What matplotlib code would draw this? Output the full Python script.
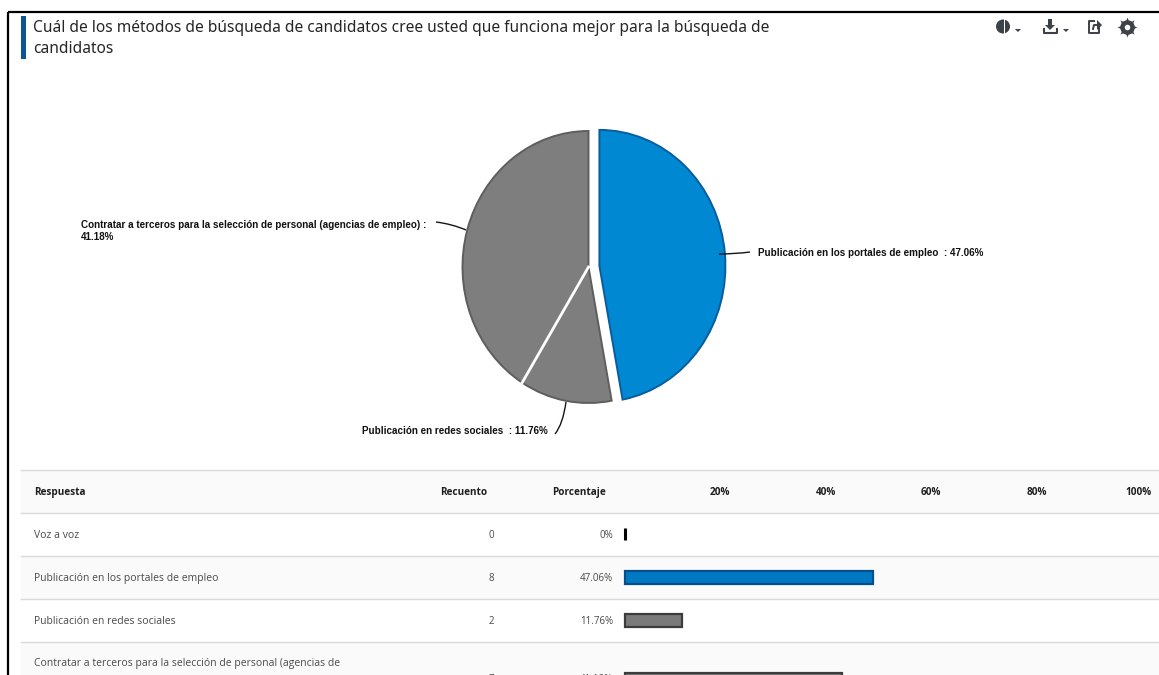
import numpy as np
import matplotlib
matplotlib.use("Agg")
import matplotlib.pyplot as plt
from matplotlib.patches import Rectangle, Circle, Polygon
from matplotlib.path import Path
from matplotlib.patches import PathPatch

W, H = 1159, 675
title_lines = ["Cuál de los métodos de búsqueda de candidatos cree usted que funciona mejor para la búsqueda de", "candidatos"]
categories = ["Voz a voz", "Publicación en los portales de empleo", "Publicación en redes sociales",
              "Contratar a terceros para la selección de personal (agencias de"]
counts = [0, 8, 2, 7]
bar_values = [0, 47.06, 10.9, 41.18]
pct_labels = ["0%", "47.06%", "11.76%", "41.18%"]
header = ["Respuesta", "Recuento", "Porcentaje"]
ticks = [20, 40, 60, 80, 100]
pie_labels = {
    1: "Publicación en los portales de empleo  : 47.06%",
    2: "Publicación en redes sociales  : 11.76%",
    3: "Contratar a terceros para la selección de personal (agencias de empleo) :\n41.18%",
}

BLUE, BLUE_E = "#0088d2", "#0b5c9e"
GREY, GREY_E = "#7e7e7e", "#5e5e5e"
bar_blue, bar_blue_e = "#0079c2", "#034f8c"
bar_grey, bar_grey_e = "#7a7a7a", "#3c3c3c"
TXT = "#4a4a4a"
HEAD = "#1e1e1e"
FONT = "Open Sans"

fig = plt.figure(figsize=(W / 100, H / 100), dpi=100, facecolor="white")

def axes_px(x0, y0, x1, y1, **kw):
    return fig.add_axes([x0 / W, 1 - y1 / H, (x1 - x0) / W, (y1 - y0) / H], **kw)

# page layer in pixel coordinates
pg = axes_px(0, 0, W, H)
pg.set_xlim(0, W); pg.set_ylim(H, 0); pg.axis("off")

# frame
pg.plot([8, 8], [H, 12], color="black", lw=1.6, solid_capstyle="butt")
pg.plot([8, W], [12, 12], color="black", lw=1.6, solid_capstyle="butt")

# title
pg.add_patch(Rectangle((21, 16), 5, 43, color="#0b5592", lw=0))
pg.text(33, 32, title_lines[0], fontsize=11.18, family="Noto Sans", color="#262626", va="baseline")
pg.text(33, 53, title_lines[1], fontsize=11.18, family="Noto Sans", color="#262626", va="baseline")

# toolbar icons
ic = "#3d4148"
pg.add_patch(Circle((1003, 26.5), 7, color=ic, lw=0))
pg.add_patch(Rectangle((1003.5, 18), 1.2, 17, color="white", lw=0))
pg.add_patch(Polygon([(1015, 29), (1021, 29), (1018, 32)], color=ic, lw=0))
pg.add_patch(Polygon([(1048, 19), (1052, 19), (1052, 25), (1055, 25), (1050, 30), (1045, 25), (1048, 25)], color=ic, lw=0))
pg.plot([1043.5, 1043.5, 1056.5, 1056.5], [29, 33, 33, 29], color=ic, lw=1.5)
pg.add_patch(Polygon([(1063, 29), (1069, 29), (1066, 32)], color=ic, lw=0))
pg.plot([1094, 1089, 1089, 1099, 1099], [21, 21, 33, 33, 28], color=ic, lw=1.4)
pg.plot([1093, 1094, 1099], [29, 25, 25], color=ic, lw=1.4)
pg.add_patch(Polygon([(1097, 20), (1102, 25), (1097, 30)], color=ic, lw=0))
pg.scatter([1127], [26.5], marker=(8, 1, 0), s=210, color=ic, lw=0)
pg.scatter([1127], [26.5], marker="o", s=110, color=ic, lw=0)
pg.scatter([1127], [26.5], marker="o", s=16, color="white", lw=0)

# table background and rules
row_lines = [470, 513, 556, 599, 642]
for i, top in enumerate(row_lines):
    bottom = row_lines[i + 1] if i + 1 < len(row_lines) else H
    if i % 2 == 0:
        pg.add_patch(Rectangle((21, top), W - 21, bottom - top, color="#fafafa", lw=0, zorder=0))
    pg.plot([21, W], [top, top], color="#d9d9d9", lw=1.0, zorder=1)

text_y = [538, 581, 624, 666]
num_y = [538, 581, 624, 682]
bar_y = [534, 577.5, 620.5, 679]

pg.text(34, 495, header[0], fontsize=7.2, family=FONT, weight="bold", color=HEAD, va="baseline")
pg.text(487, 495, header[1], fontsize=7.2, family=FONT, weight="bold", color=HEAD, va="baseline", ha="right")
pg.text(606, 495, header[2], fontsize=7.2, family=FONT, weight="bold", color=HEAD, va="baseline", ha="right")
for c, n, p, ty, ny in zip(categories, counts, pct_labels, text_y, num_y):
    pg.text(34, ty, c, fontsize=7.45, family=FONT, color=TXT, va="baseline")
    pg.text(494, ny, str(n), fontsize=7.0, family=FONT, color=TXT, va="baseline", ha="right")
    pg.text(613, ny, p, fontsize=7.0, family=FONT, color=TXT, va="baseline", ha="right")

# horizontal bars
bx = axes_px(625, 513, 625 + 527, H)
bx.patch.set_alpha(0)
bx.set_xlim(0, 100); bx.set_ylim(H, 513)
for s in bx.spines.values():
    s.set_visible(False)
bx.set_yticks([])
for i, (v, y) in enumerate(zip(bar_values, bar_y)):
    col, edge = (bar_blue, bar_blue_e) if i == 1 else (bar_grey, bar_grey_e)
    if v == 0:
        col, edge = "black", "black"
    bx.barh(y, v, height=12.5, color=col, edgecolor=edge, linewidth=1.6 if v else 2.2, clip_on=False)
bx.xaxis.tick_top()
bx.set_xticks(ticks)
bx.set_xticklabels([f"{t}%" for t in ticks], ha="right", fontsize=7.2, family=FONT, weight="bold", color=HEAD)
bx.tick_params(axis="x", length=0, pad=11)

# pie
rx, ry = 126, 136
cx, cy = 588.5, 267
pa = axes_px(cx - rx, cy - ry, cx + rx, cy + ry)
idx = [i for i, n in enumerate(counts) if n > 0]
wedges, _ = pa.pie([counts[i] for i in idx], colors=[BLUE, GREY, GREY], startangle=90, counterclock=False,
                   radius=1, explode=[0.087, 0, 0], wedgeprops=dict(linewidth=1.4, joinstyle="miter"))
for w, e in zip(wedges, [BLUE_E, GREY_E, GREY_E]):
    w.set_edgecolor(e)
    w.set_clip_on(False)
pa.set_aspect("auto")
pa.set_xlim(-1, 1); pa.set_ylim(-1, 1)
pa.patch.set_alpha(0)
# white seam between the two grey slices, along their shared wedge angle
seam = np.deg2rad(wedges[2].theta2)
pa.plot([0, np.cos(seam)], [0, np.sin(seam)], color="white", lw=2.0, clip_on=False, solid_capstyle="projecting")

# pie labels and leader lines
lab = dict(fontsize=7.1, family="Liberation Sans", weight="bold", color="#101010")
pg2 = axes_px(0, 0, W, H)
pg2.set_xlim(0, W); pg2.set_ylim(H, 0); pg2.axis("off"); pg2.patch.set_alpha(0)
pg2.text(758, 253, pie_labels[1], va="center", **lab)
pg2.text(362, 431.5, pie_labels[2], va="center", **lab)
pg2.text(81, 231, pie_labels[3], va="center", linespacing=1.25, **lab)
for verts in ([(719, 254), (735, 254), (750, 252)],
              [(566, 402), (563, 424), (555, 434)],
              [(436, 222), (452, 224), (466, 230)]):
    pg2.add_patch(PathPatch(Path(verts, [Path.MOVETO, Path.CURVE3, Path.CURVE3]), fc="none", ec="#151515", lw=1.0))

fig.savefig("out.png", dpi=100)
